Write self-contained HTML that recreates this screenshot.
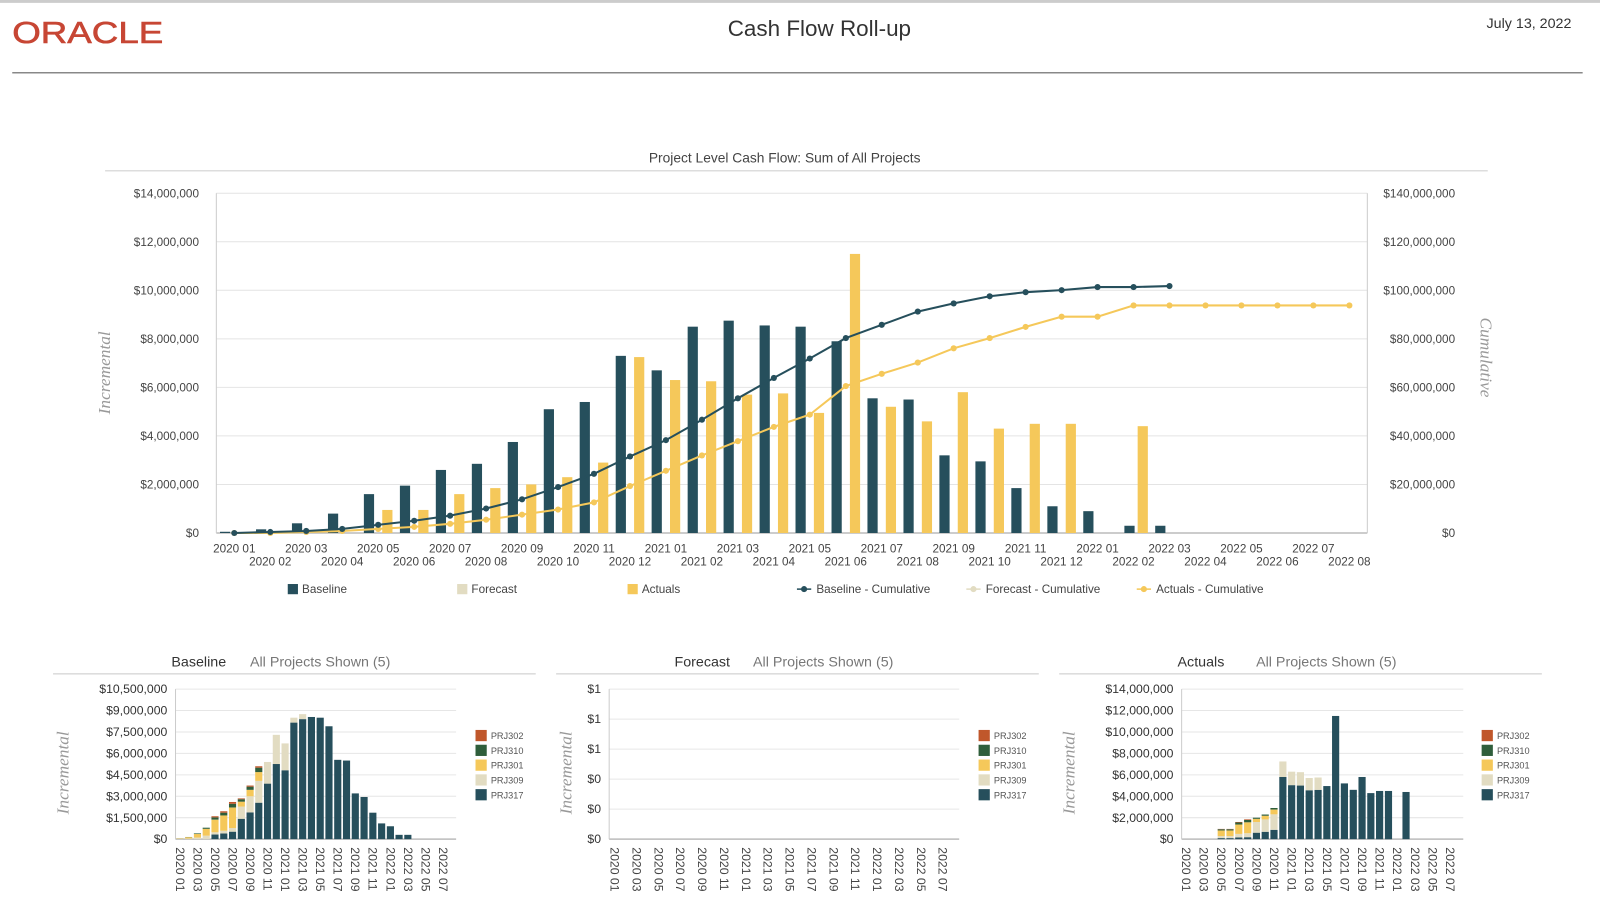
<!DOCTYPE html>
<html><head><meta charset="utf-8"><style>
html,body{margin:0;padding:0;background:#fff;}
svg{display:block;font-family:"Liberation Sans",sans-serif;}
</style></head><body>
<svg id="s" width="1600" height="916" viewBox="0 0 1568 897" xmlns="http://www.w3.org/2000/svg"></svg>
<script>
const T='#264f5c',Y='#f5c85a',BE='#e2dcc2',G='#2f5e3b',O='#c0572b';
let h='';
function t(x,y,s,size,anc,fill,extra){h+=`<text x="${x}" y="${y}" font-size="${size}" text-anchor="${anc||'start'}" fill="${fill||'#444'}" ${extra||''}>${s}</text>`;}
function r(x,y,w,hh,f){if(hh<=0)return;h+=`<rect x="${x.toFixed(1)}" y="${y.toFixed(1)}" width="${w}" height="${hh.toFixed(1)}" fill="${f}"/>`;}
function l(x1,y1,x2,y2,c,w){h+=`<line x1="${x1}" y1="${y1}" x2="${x2}" y2="${y2}" stroke="${c}" stroke-width="${w||1}"/>`;}
h+=`<rect x="0" y="0" width="1568" height="897" fill="#fff"/>`;
l(0,1,1568,1,'#ccc',3);
t(12,42,'ORACLE',30,'start','#c74634','stroke="#c74634" stroke-width="0.6" textLength="148" lengthAdjust="spacingAndGlyphs"');
t(803,35,'Cash Flow Roll-up',22,'middle','#333');
t(1540,27,'July 13, 2022',14,'end','#333');
l(12,71,1551,71,'#888',1.5);
t(769,159,'Project Level Cash Flow: Sum of All Projects',13.5,'middle','#444');
l(103,167,1458,167,'#ddd',1.5);
const L=212,R=1340,TOP=189,BOT=522,ph=BOT-TOP;
for(let k=0;k<=7;k++){const y=BOT-k*ph/7;l(L,y,R,y,k==0?'#bbb':'#e4e4e4',k==0?1.5:1);
 t(195,y+4,'$'+(k==0?'0':(k*2)+',000,000'),11.5,'end','#444');
 t(1426,y+4,'$'+(k==0?'0':(k*20)+',000,000'),11.5,'end','#444');}
l(L,TOP,L,BOT,'#ccc');l(R,TOP,R,BOT,'#ccc');
t(0,0,'Incremental',17,'middle','#999','font-family="Liberation Serif,serif" font-style="italic" transform="translate(108,365) rotate(-90)"');
t(0,0,'Cumulative',17,'middle','#999','font-family="Liberation Serif,serif" font-style="italic" transform="translate(1451,350) rotate(90)"');
const cw=(R-L)/32,cx=i=>L+cw/2+cw*i,vy=v=>BOT-v/14*ph;
const base=[0.05,0.15,0.4,0.8,1.6,1.95,2.6,2.85,3.75,5.1,5.4,7.3,6.7,8.5,8.75,8.55,8.5,7.9,5.55,5.5,3.2,2.95,1.85,1.1,0.9,0.3,0.3];
const act=[0,0,0,0,0.95,0.95,1.6,1.85,2.0,2.3,2.9,7.25,6.3,6.25,5.7,5.75,4.95,11.5,5.2,4.6,5.8,4.3,4.5,4.5,0,4.4];
base.forEach((v,i)=>{if(i==25)return;r(cx(i)-14,vy(v),10,BOT-vy(v),T);});
r(cx(25)-9,vy(0.3),10,BOT-vy(0.3),T);
act.forEach((v,i)=>r(cx(i)+4,vy(v),10,BOT-vy(v),Y));
const bc=[522,521,520,518,514,510,505,498,489,477,464,447,431,411,390,370,351,331,318,305,297,290,286,284,281,281,280];
const ac=[522,522,521,520,518,516,513,509,504,499,492,476,461,446,432,418,406,378,366,355,341,331,320,310,310,299,299,299,299,299,299,299];
function line(arr,c){h+=`<polyline fill="none" stroke="${c}" stroke-width="2" points="${arr.map((y,i)=>cx(i).toFixed(1)+','+y).join(' ')}"/>`;
 arr.forEach((y,i)=>h+=`<circle cx="${cx(i).toFixed(1)}" cy="${y}" r="3" fill="${c}"/>`);}
line(ac,Y);line(bc,T);
const yrs=['2020','2021','2022'];
for(let i=0;i<32;i++){const yy=yrs[Math.floor(i/12)],m=String(i%12+1).padStart(2,'0');t(cx(i),i%2?554:541,yy+' '+m,11.5,'middle','#444');}
function lg(x,kind,c,s){if(kind=='b')r(x,572,10,10,c);else{l(x-5,577,x+9,577,c,1.5);h+=`<circle cx="${x+2}" cy="577" r="3" fill="${c}"/>`;}t(x+14,581,s,11.5,'start','#444');}
lg(282,'b',T,'Baseline');lg(448,'b',BE,'Forecast');lg(615,'b',Y,'Actuals');
lg(786,'l',T,'Baseline - Cumulative');lg(952,'l',BE,'Forecast - Cumulative');lg(1119,'l',Y,'Actuals  - Cumulative');
function panel(ox,name,ticks,pl,pr,bars){
 t(ox+116,653,name,14,'start','#333');t(ox+193,653,'All Projects Shown (5)',14,'start','#777');
 l(ox,660,ox+473,660,'#ddd',1.5);
 const top=675,bot=822,n=ticks.length-1;
 ticks.forEach((s,k)=>{const y=bot-k*(bot-top)/n;l(pl,y,pr,y,k==0?'#bbb':'#e6e6e6',k==0?1.5:1);t(pl-8,y+4,s,12,'end','#333');});
 l(pl,top,pl,bot,'#ccc');
 t(0,0,'Incremental',17,'middle','#999',`font-family="Liberation Serif,serif" font-style="italic" transform="translate(${ox+15},757) rotate(-90)"`);
 const w=(pr-pl)/32;
 if(bars)bars(pl,w,bot);
 for(let i=0;i<32;i+=2){const yy=yrs[Math.floor(i/12)],m=String(i%12+1).padStart(2,'0');const x=pl+w*i+w/2;
  t(0,0,yy+' '+m,12,'start','#444',`transform="translate(${x-4},830) rotate(90)"`);}
 const lx=ox+414;[['PRJ302',O],['PRJ310',G],['PRJ301',Y],['PRJ309',BE],['PRJ317',T]].forEach((p,k)=>{r(lx,715+k*14.5,11,11,p[1]);t(lx+15,724+k*14.5,p[0],9,'start','#555');});
}
function stack(pl,w,bot,tot,sc,fr){tot.forEach((v,i)=>{let y=bot;const f=fr(i);const cs=[T,BE,Y,G,O];f.forEach((p,k)=>{const hh=v*p*sc;r(pl+w*i+0.8,y-hh,w-1.6,hh,cs[k]);y-=hh;});});}
panel(52,'Baseline',['$0','$1,500,000','$3,000,000','$4,500,000','$6,000,000','$7,500,000','$9,000,000','$10,500,000'],172,447,(pl,w,bot)=>{
 stack(pl,w,bot,base,147/10.5,i=>i<4?[0,0.3,0.6,0.1,0]:i<7?[0.2,0.1,0.55,0.1,0.05]:i<10?[0.5,0.3,0.12,0.06,0.02]:i<13?[0.72,0.28,0,0,0]:i<15?[0.96,0.04,0,0,0]:[1,0,0,0,0]);});
panel(545,'Forecast',['$0','$0','$0','$1','$1','$1'],597,940,null);
panel(1038,'Actuals',['$0','$2,000,000','$4,000,000','$6,000,000','$8,000,000','$10,000,000','$12,000,000','$14,000,000'],1158,1434,(pl,w,bot)=>{
 stack(pl,w,bot,act,147/14,i=>i<8?[0.1,0.2,0.55,0.12,0.03]:i<11?[0.3,0.5,0.15,0.05,0]:i<16?[0.8,0.2,0,0,0]:[1,0,0,0,0]);});
document.getElementById('s').innerHTML=h;
</script>
</body></html>
